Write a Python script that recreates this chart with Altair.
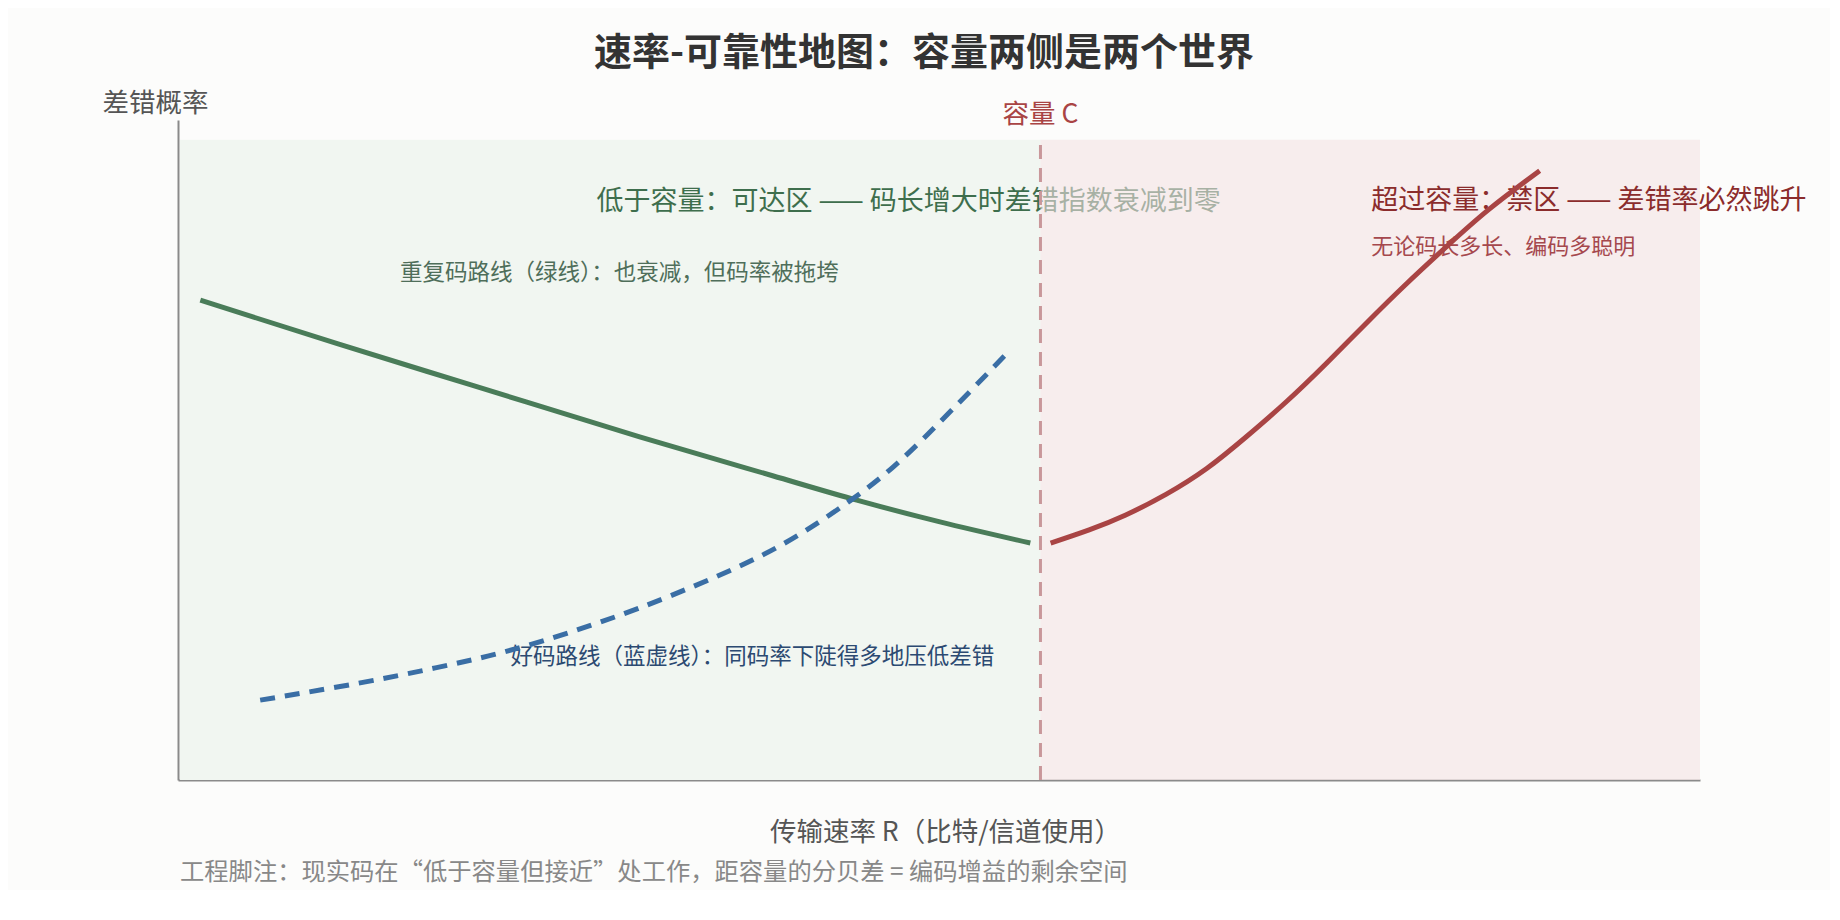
import pandas as pd
import altair as alt

FONT = "Noto Sans CJK SC"

# capacity and plot range (rate in bits/channel use, error probability 0..1)
capacity = 0.85
rate_max = 1.5

# green: repetition-code path
rep_rate = [0.022, 0.157, 0.288, 0.455, 0.586, 0.669, 0.751, 0.840]
rep_perr = [0.727, 0.661, 0.599, 0.520, 0.461, 0.424, 0.391, 0.359]

# blue dashed: good-code path
good_rate = [0.081, 0.182, 0.255, 0.320, 0.386, 0.452, 0.524, 0.596, 0.669, 0.705, 0.741, 0.818]
good_perr = [0.121, 0.147, 0.170, 0.192, 0.223, 0.258, 0.303, 0.353, 0.429, 0.473, 0.526, 0.648]

# red: above capacity
over_rate = [0.860, 0.899, 0.932, 0.974, 1.014, 1.053, 1.093, 1.132, 1.172, 1.211, 1.250, 1.290, 1.342]
over_perr = [0.359, 0.379, 0.399, 0.432, 0.470, 0.520, 0.573, 0.631, 0.694, 0.753, 0.808, 0.864, 0.923]

# regions
region_names = ["可达区", "禁区"]
region_x0 = [0.002, capacity]
region_x1 = [capacity, rate_max]
region_top = 0.97

rep = pd.DataFrame({"rate": rep_rate, "perr": rep_perr})
good = pd.DataFrame({"rate": good_rate, "perr": good_perr})
over = pd.DataFrame({"rate": over_rate, "perr": over_perr})
regions = pd.DataFrame({"region": region_names, "x0": region_x0, "x1": region_x1,
                        "y0": [0, 0], "y1": [region_top, region_top]})
cap = pd.DataFrame({"rate": [capacity], "y0": [0], "y1": [region_top], "label": ["容量 C"]})

x_scale = alt.Scale(domain=[0, rate_max], nice=False)
y_scale = alt.Scale(domain=[0, 1], nice=False)

ax_x = alt.Axis(labels=False, ticks=False, grid=False, domainColor="#8a8a8a", domainWidth=2,
                title="传输速率 R（比特/信道使用）", titleX=767, titleY=52,
                titleAlign="center", titleBaseline="middle", titleFont=FONT,
                titleFontSize=26.5, titleFontWeight="normal", titleColor="#555555")
ax_y = alt.Axis(labels=False, ticks=False, grid=False, domainColor="#8a8a8a", domainWidth=2,
                title="差错概率", titleAngle=0, titleX=-23, titleY=-17,
                titleAlign="center", titleBaseline="middle", titleFont=FONT,
                titleFontSize=26.5, titleFontWeight="normal", titleColor="#555555")

base_rect = alt.Chart(regions).mark_rect().encode(
    x=alt.X("x0:Q", scale=x_scale, axis=ax_x),
    x2="x1:Q",
    y=alt.Y("y0:Q", scale=y_scale, axis=ax_y),
    y2="y1:Q",
)
green_bg = base_rect.transform_filter(alt.datum.region == "可达区").mark_rect(color="#f1f6f1")
red_bg = base_rect.transform_filter(alt.datum.region == "禁区").mark_rect(color="#f3e2e3", opacity=0.58)


def note(text, x, y, size, color, align="center"):
    d = pd.DataFrame({"rate": [x], "perr": [y], "t": [text]})
    return alt.Chart(d).mark_text(font=FONT, fontSize=size, color=color, align=align,
                                  baseline="middle").encode(
        x=alt.X("rate:Q", scale=x_scale), y=alt.Y("perr:Q", scale=y_scale), text="t:N")


green_main = note("低于容量：可达区 —— 码长增大时差错指数衰减到零", 0.72, 0.876, 27, "#3e6e4d")
rep_note = note("重复码路线（绿线）：也衰减，但码率被拖垮", 0.435, 0.768, 22.5, "#4f6e5a")
good_note = note("好码路线（蓝虚线）：同码率下陡得多地压低差错", 0.566, 0.186, 22.5, "#2c4a72")
over_main = note("超过容量：禁区 —— 差错率必然跳升", 1.176, 0.877, 27, "#8b2c2c", align="left")
over_sub = note("无论码长多长、编码多聪明", 1.176, 0.808, 22, "#a5484d", align="left")

cap_rule = alt.Chart(cap).mark_rule(color="#c9979a", strokeWidth=3, strokeDash=[14, 9]).encode(
    x=alt.X("rate:Q", scale=x_scale), y=alt.Y("y0:Q", scale=y_scale), y2="y1:Q")
cap_label = alt.Chart(cap).mark_text(font=FONT, fontSize=26.5, color="#a94444",
                                     align="center", baseline="middle").encode(
    x=alt.X("rate:Q", scale=x_scale), y=alt.value(-5), text="label:N")

rep_line = alt.Chart(rep).mark_line(color="#4a7c59", strokeWidth=5, interpolate="monotone").encode(
    x=alt.X("rate:Q", scale=x_scale), y=alt.Y("perr:Q", scale=y_scale))
good_line = alt.Chart(good).mark_line(color="#3a6ea5", strokeWidth=5, strokeDash=[15, 10],
                                      interpolate="basis").encode(
    x=alt.X("rate:Q", scale=x_scale), y=alt.Y("perr:Q", scale=y_scale))
over_line = alt.Chart(over).mark_line(color="#a94444", strokeWidth=5, interpolate="basis").encode(
    x=alt.X("rate:Q", scale=x_scale), y=alt.Y("perr:Q", scale=y_scale))

foot = pd.DataFrame({"t": ["工程脚注：现实码在“低于容量但接近”处工作，距容量的分贝差 = 编码增益的剩余空间"]})
footnote = alt.Chart(foot).mark_text(font=FONT, fontSize=24.3, color="#888888", align="left",
                                     baseline="middle").encode(
    x=alt.value(2), y=alt.value(753), text="t:N")

chart = alt.layer(
    green_bg, green_main, red_bg, cap_rule, cap_label,
    rep_note, good_note, over_main, over_sub,
    rep_line, good_line, over_line, footnote,
).properties(
    width=1522, height=660,
    autosize=alt.AutoSizeParams(type="none"),
    padding={"left": 170, "top": 112, "right": 130, "bottom": 110},
    background="#fcfcfb",
    title=alt.Title("速率-可靠性地图：容量两侧是两个世界", font=FONT, fontSize=38,
                    fontWeight="bold", color="#333333", anchor="middle", frame="group",
                    dx=-15, offset=17),
).configure_view(stroke=None)

chart.save("out.html", embed_options={"renderer": "svg", "actions": False})
